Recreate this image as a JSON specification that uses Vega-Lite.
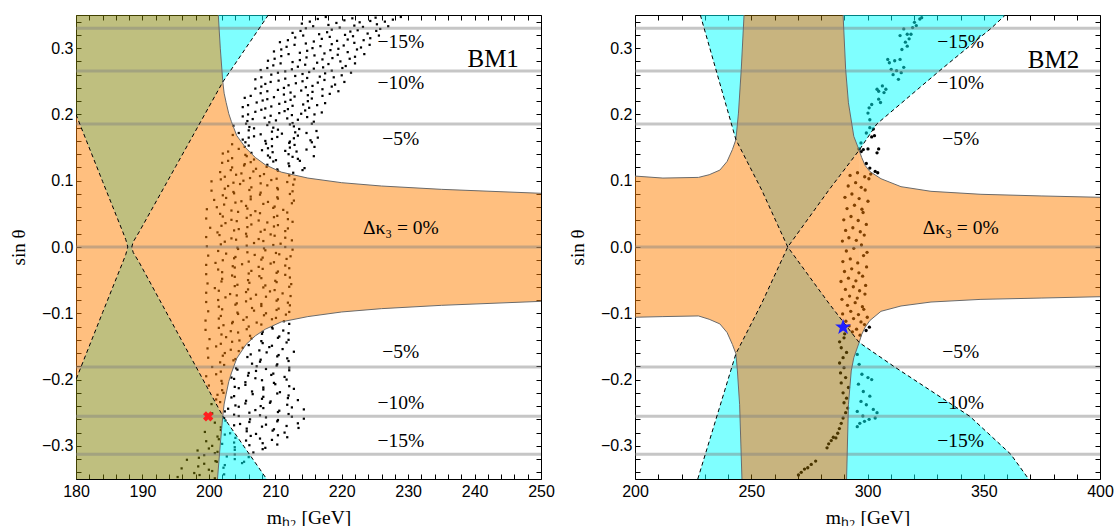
{
"$schema":"https://vega.github.io/schema/vega-lite/v6.json",
"background":"white",
"padding":{"left":8,"top":13,"right":10,"bottom":5},
"spacing":94,
"bounds":"flush",
"config":{
"view":{"stroke":"black","strokeWidth":1},
"axis":{"domain":false,"grid":false,"tickColor":"black","tickWidth":1,"tickSize":-5,"labelFont":"Liberation Sans","labelFontSize":16,"labelColor":"black","titleFont":"Liberation Serif","titleFontSize":19.5,"titleFontWeight":"normal","titleColor":"black","labelOverlap":false,"labelFlush":false},
"text":{"font":"Liberation Serif","fontSize":19.5,"color":"black"}
},
"datasets":{
"hl":[{"y":0.33},{"y":0.2656},{"y":0.1856},{"y":0},{"y":-0.1811},{"y":-0.2554},{"y":-0.3126}],
"a1":[
{"g":"o1","c":"#ff8000","x":180,"lo":-0.2,"hi":0.2},{"g":"o1","c":"#ff8000","x":184,"lo":-0.099,"hi":0.099},{"g":"o1","c":"#ff8000","x":187,"lo":-0.024,"hi":0.024},{"g":"o1","c":"#ff8000","x":187.5,"lo":-0.011,"hi":0.011},{"g":"o1","c":"#ff8000","x":187.8,"lo":0,"hi":0},
{"g":"o2","c":"#ff8000","x":188.4,"lo":0,"hi":0},{"g":"o2","c":"#ff8000","x":188.6,"lo":-0.008,"hi":0.0075},{"g":"o2","c":"#ff8000","x":189.5,"lo":-0.023,"hi":0.0226},{"g":"o2","c":"#ff8000","x":195,"lo":-0.1243,"hi":0.1213},{"g":"o2","c":"#ff8000","x":202.1,"lo":-0.255,"hi":0.249},{"g":"o2","c":"#ff8000","x":202.3,"lo":-0.237,"hi":0.232},{"g":"o2","c":"#ff8000","x":202.6,"lo":-0.222,"hi":0.218},{"g":"o2","c":"#ff8000","x":203,"lo":-0.203,"hi":0.201},{"g":"o2","c":"#ff8000","x":203.4,"lo":-0.19,"hi":0.189},{"g":"o2","c":"#ff8000","x":204.2,"lo":-0.168,"hi":0.168},{"g":"o2","c":"#ff8000","x":205.6,"lo":-0.147,"hi":0.149},{"g":"o2","c":"#ff8000","x":207,"lo":-0.134,"hi":0.135},{"g":"o2","c":"#ff8000","x":208.5,"lo":-0.124,"hi":0.124},{"g":"o2","c":"#ff8000","x":210.9,"lo":-0.113,"hi":0.113},{"g":"o2","c":"#ff8000","x":214.9,"lo":-0.105,"hi":0.104},{"g":"o2","c":"#ff8000","x":220,"lo":-0.098,"hi":0.097},{"g":"o2","c":"#ff8000","x":226,"lo":-0.093,"hi":0.092},{"g":"o2","c":"#ff8000","x":235,"lo":-0.088,"hi":0.087},{"g":"o2","c":"#ff8000","x":250,"lo":-0.082,"hi":0.081},
{"g":"v1","c":"#7f7f00","x":180,"lo":0.2,"hi":0.35},{"g":"v1","c":"#7f7f00","x":184,"lo":0.099,"hi":0.35},{"g":"v1","c":"#7f7f00","x":187,"lo":0.024,"hi":0.35},{"g":"v1","c":"#7f7f00","x":187.5,"lo":0.011,"hi":0.35},{"g":"v1","c":"#7f7f00","x":187.8,"lo":0,"hi":0.35},{"g":"v1","c":"#7f7f00","x":188.4,"lo":0,"hi":0.35},{"g":"v1","c":"#7f7f00","x":188.6,"lo":0.0075,"hi":0.35},{"g":"v1","c":"#7f7f00","x":189.5,"lo":0.0226,"hi":0.35},{"g":"v1","c":"#7f7f00","x":195,"lo":0.1213,"hi":0.35},{"g":"v1","c":"#7f7f00","x":201.42,"lo":0.2364,"hi":0.35},{"g":"v1","c":"#7f7f00","x":201.72,"lo":0.2418,"hi":0.3},{"g":"v1","c":"#7f7f00","x":202.1,"lo":0.249,"hi":0.249},
{"g":"v2","c":"#7f7f00","x":180,"lo":-0.35,"hi":-0.2},{"g":"v2","c":"#7f7f00","x":184,"lo":-0.35,"hi":-0.099},{"g":"v2","c":"#7f7f00","x":187,"lo":-0.35,"hi":-0.024},{"g":"v2","c":"#7f7f00","x":187.5,"lo":-0.35,"hi":-0.011},{"g":"v2","c":"#7f7f00","x":187.8,"lo":-0.35,"hi":0},{"g":"v2","c":"#7f7f00","x":188.4,"lo":-0.35,"hi":0},{"g":"v2","c":"#7f7f00","x":188.6,"lo":-0.35,"hi":-0.008},{"g":"v2","c":"#7f7f00","x":189.5,"lo":-0.35,"hi":-0.023},{"g":"v2","c":"#7f7f00","x":195,"lo":-0.35,"hi":-0.1243},{"g":"v2","c":"#7f7f00","x":201.3,"lo":-0.35,"hi":-0.2404},{"g":"v2","c":"#7f7f00","x":201.7,"lo":-0.3,"hi":-0.2478},{"g":"v2","c":"#7f7f00","x":202.1,"lo":-0.255,"hi":-0.255},
{"g":"c1","c":"#00ffff","x":201.42,"lo":0.35,"hi":0.35},{"g":"c1","c":"#00ffff","x":201.72,"lo":0.3,"hi":0.35},{"g":"c1","c":"#00ffff","x":202.1,"lo":0.249,"hi":0.35},{"g":"c1","c":"#00ffff","x":205.5,"lo":0.2995,"hi":0.35},{"g":"c1","c":"#00ffff","x":208.95,"lo":0.35,"hi":0.35},
{"g":"c2","c":"#00ffff","x":201.3,"lo":-0.35,"hi":-0.35},{"g":"c2","c":"#00ffff","x":201.7,"lo":-0.35,"hi":-0.3},{"g":"c2","c":"#00ffff","x":202.1,"lo":-0.35,"hi":-0.255},{"g":"c2","c":"#00ffff","x":205.4,"lo":-0.35,"hi":-0.303},{"g":"c2","c":"#00ffff","x":208.7,"lo":-0.35,"hi":-0.35}
],
"s1":[
{"g":"a","x":201.42,"y":0.35},{"g":"a","x":201.72,"y":0.3},{"g":"a","x":202.1,"y":0.249},{"g":"a","x":202.3,"y":0.232},{"g":"a","x":202.6,"y":0.218},{"g":"a","x":203,"y":0.201},{"g":"a","x":203.4,"y":0.189},{"g":"a","x":204.2,"y":0.168},{"g":"a","x":205.6,"y":0.149},{"g":"a","x":207,"y":0.135},{"g":"a","x":208.5,"y":0.124},{"g":"a","x":210.9,"y":0.113},{"g":"a","x":214.9,"y":0.104},{"g":"a","x":220,"y":0.097},{"g":"a","x":226,"y":0.092},{"g":"a","x":235,"y":0.087},{"g":"a","x":250,"y":0.081},
{"g":"b","x":201.3,"y":-0.35},{"g":"b","x":201.7,"y":-0.3},{"g":"b","x":202.1,"y":-0.255},{"g":"b","x":202.3,"y":-0.237},{"g":"b","x":202.6,"y":-0.222},{"g":"b","x":203,"y":-0.203},{"g":"b","x":203.4,"y":-0.19},{"g":"b","x":204.2,"y":-0.168},{"g":"b","x":205.6,"y":-0.147},{"g":"b","x":207,"y":-0.134},{"g":"b","x":208.5,"y":-0.124},{"g":"b","x":210.9,"y":-0.113},{"g":"b","x":214.9,"y":-0.105},{"g":"b","x":220,"y":-0.098},{"g":"b","x":226,"y":-0.093},{"g":"b","x":235,"y":-0.088},{"g":"b","x":250,"y":-0.082}
],
"d1":[
{"g":"a","o":1,"x":180,"y":0.2},{"g":"a","o":2,"x":184,"y":0.099},{"g":"a","o":3,"x":187,"y":0.024},{"g":"a","o":4,"x":187.5,"y":0.011},{"g":"a","o":5,"x":187.8,"y":0},{"g":"a","o":6,"x":187.5,"y":-0.011},{"g":"a","o":7,"x":187,"y":-0.024},{"g":"a","o":8,"x":184,"y":-0.099},{"g":"a","o":9,"x":180,"y":-0.2},
{"g":"b","o":1,"x":208.95,"y":0.35},{"g":"b","o":2,"x":202.1,"y":0.249},{"g":"b","o":3,"x":195,"y":0.1213},{"g":"b","o":4,"x":189.5,"y":0.0226},{"g":"b","o":5,"x":188.6,"y":0.0075},{"g":"b","o":6,"x":188.4,"y":0},{"g":"b","o":7,"x":188.6,"y":-0.008},{"g":"b","o":8,"x":189.5,"y":-0.023},{"g":"b","o":9,"x":195,"y":-0.1243},{"g":"b","o":10,"x":202.1,"y":-0.255},{"g":"b","o":11,"x":208.7,"y":-0.35}
],
"t1":[{"x":228.9,"y":0.309,"t":"−15%","s":19.5},{"x":228.9,"y":0.247,"t":"−10%","s":19.5},{"x":228.9,"y":0.163,"t":"−5%","s":19.5},{"x":228.9,"y":0.029,"t":"Δκ₃ = 0%","s":19.5},{"x":228.9,"y":-0.159,"t":"−5%","s":19.5},{"x":228.9,"y":-0.236,"t":"−10%","s":19.5},{"x":228.9,"y":-0.292,"t":"−15%","s":19.5},{"x":242.8,"y":0.283,"t":"BM1","s":25}],
"a2":[
{"g":"o1","c":"#ff8000","x":200,"lo":-0.106,"hi":0.107},{"g":"o1","c":"#ff8000","x":212,"lo":-0.105,"hi":0.104},{"g":"o1","c":"#ff8000","x":227.3,"lo":-0.104,"hi":0.105},{"g":"o1","c":"#ff8000","x":231.9,"lo":-0.109,"hi":0.109},{"g":"o1","c":"#ff8000","x":236.5,"lo":-0.116,"hi":0.116},{"g":"o1","c":"#ff8000","x":239.6,"lo":-0.129,"hi":0.129},{"g":"o1","c":"#ff8000","x":241.9,"lo":-0.147,"hi":0.147},{"g":"o1","c":"#ff8000","x":243.4,"lo":-0.161,"hi":0.162},
{"g":"o2","c":"#ff8000","x":243.4,"lo":-0.161,"hi":0.162},{"g":"o2","c":"#ff8000","x":254.5,"lo":-0.085,"hi":0.086},{"g":"o2","c":"#ff8000","x":265.7,"lo":0,"hi":0},{"g":"o2","c":"#ff8000","x":283.4,"lo":-0.085,"hi":0.086},{"g":"o2","c":"#ff8000","x":296.4,"lo":-0.144,"hi":0.146},
{"g":"o3","c":"#ff8000","x":296.4,"lo":-0.144,"hi":0.146},{"g":"o3","c":"#ff8000","x":297.5,"lo":-0.132,"hi":0.135},{"g":"o3","c":"#ff8000","x":299,"lo":-0.121,"hi":0.123},{"g":"o3","c":"#ff8000","x":301,"lo":-0.111,"hi":0.114},{"g":"o3","c":"#ff8000","x":305.8,"lo":-0.097,"hi":0.103},{"g":"o3","c":"#ff8000","x":314.4,"lo":-0.089,"hi":0.091},{"g":"o3","c":"#ff8000","x":327.3,"lo":-0.083,"hi":0.084},{"g":"o3","c":"#ff8000","x":348.8,"lo":-0.079,"hi":0.0795},{"g":"o3","c":"#ff8000","x":375,"lo":-0.077,"hi":0.077},{"g":"o3","c":"#ff8000","x":400,"lo":-0.075,"hi":0.075},
{"g":"v1","c":"#926a00","x":243.4,"lo":0.162,"hi":0.162},{"g":"v1","c":"#926a00","x":244.5,"lo":0.1545,"hi":0.202},{"g":"v1","c":"#926a00","x":245.7,"lo":0.1463,"hi":0.268},{"g":"v1","c":"#926a00","x":246.9,"lo":0.138,"hi":0.35},{"g":"v1","c":"#926a00","x":254.5,"lo":0.086,"hi":0.35},{"g":"v1","c":"#926a00","x":265.7,"lo":0,"hi":0.35},{"g":"v1","c":"#926a00","x":283.4,"lo":0.086,"hi":0.35},{"g":"v1","c":"#926a00","x":289.5,"lo":0.1142,"hi":0.35},{"g":"v1","c":"#926a00","x":290.6,"lo":0.1192,"hi":0.268},{"g":"v1","c":"#926a00","x":291.8,"lo":0.1248,"hi":0.2175},{"g":"v1","c":"#926a00","x":294.1,"lo":0.1354,"hi":0.167},{"g":"v1","c":"#926a00","x":296.4,"lo":0.146,"hi":0.146},
{"g":"v2","c":"#926a00","x":243.4,"lo":-0.161,"hi":-0.161},{"g":"v2","c":"#926a00","x":244.05,"lo":-0.187,"hi":-0.1566},{"g":"v2","c":"#926a00","x":245,"lo":-0.238,"hi":-0.15},{"g":"v2","c":"#926a00","x":246,"lo":-0.35,"hi":-0.1432},{"g":"v2","c":"#926a00","x":254.5,"lo":-0.35,"hi":-0.085},{"g":"v2","c":"#926a00","x":265.7,"lo":-0.35,"hi":0},{"g":"v2","c":"#926a00","x":283.4,"lo":-0.35,"hi":-0.085},{"g":"v2","c":"#926a00","x":291,"lo":-0.35,"hi":-0.1195},{"g":"v2","c":"#926a00","x":291.8,"lo":-0.238,"hi":-0.1231},{"g":"v2","c":"#926a00","x":293,"lo":-0.187,"hi":-0.1286},{"g":"v2","c":"#926a00","x":294.1,"lo":-0.167,"hi":-0.1336},{"g":"v2","c":"#926a00","x":296.4,"lo":-0.144,"hi":-0.144},
{"g":"c1","c":"#00ffff","x":228.1,"lo":0.35,"hi":0.35},{"g":"c1","c":"#00ffff","x":243.4,"lo":0.162,"hi":0.35},{"g":"c1","c":"#00ffff","x":244.5,"lo":0.202,"hi":0.35},{"g":"c1","c":"#00ffff","x":245.7,"lo":0.268,"hi":0.35},{"g":"c1","c":"#00ffff","x":246.9,"lo":0.35,"hi":0.35},
{"g":"c2","c":"#00ffff","x":289.5,"lo":0.35,"hi":0.35},{"g":"c2","c":"#00ffff","x":290.6,"lo":0.268,"hi":0.35},{"g":"c2","c":"#00ffff","x":291.8,"lo":0.2175,"hi":0.35},{"g":"c2","c":"#00ffff","x":294.1,"lo":0.167,"hi":0.35},{"g":"c2","c":"#00ffff","x":296.4,"lo":0.146,"hi":0.35},{"g":"c2","c":"#00ffff","x":304,"lo":0.1856,"hi":0.35},{"g":"c2","c":"#00ffff","x":330.9,"lo":0.2656,"hi":0.35},{"g":"c2","c":"#00ffff","x":353.2,"lo":0.33,"hi":0.35},{"g":"c2","c":"#00ffff","x":359.3,"lo":0.35,"hi":0.35},
{"g":"c3","c":"#00ffff","x":227,"lo":-0.35,"hi":-0.35},{"g":"c3","c":"#00ffff","x":243.4,"lo":-0.35,"hi":-0.161},{"g":"c3","c":"#00ffff","x":244.05,"lo":-0.35,"hi":-0.187},{"g":"c3","c":"#00ffff","x":245,"lo":-0.35,"hi":-0.238},{"g":"c3","c":"#00ffff","x":246,"lo":-0.35,"hi":-0.35},
{"g":"c4","c":"#00ffff","x":291,"lo":-0.35,"hi":-0.35},{"g":"c4","c":"#00ffff","x":291.8,"lo":-0.35,"hi":-0.238},{"g":"c4","c":"#00ffff","x":293,"lo":-0.35,"hi":-0.187},{"g":"c4","c":"#00ffff","x":294.1,"lo":-0.35,"hi":-0.167},{"g":"c4","c":"#00ffff","x":296.4,"lo":-0.35,"hi":-0.144},{"g":"c4","c":"#00ffff","x":311.7,"lo":-0.35,"hi":-0.181},{"g":"c4","c":"#00ffff","x":344,"lo":-0.35,"hi":-0.2554},{"g":"c4","c":"#00ffff","x":361.6,"lo":-0.35,"hi":-0.3126},{"g":"c4","c":"#00ffff","x":369.3,"lo":-0.35,"hi":-0.35}
],
"s2":[
{"g":"a","x":200,"y":0.107},{"g":"a","x":212,"y":0.104},{"g":"a","x":227.3,"y":0.105},{"g":"a","x":231.9,"y":0.109},{"g":"a","x":236.5,"y":0.116},{"g":"a","x":239.6,"y":0.129},{"g":"a","x":241.9,"y":0.147},{"g":"a","x":243.4,"y":0.162},{"g":"a","x":244.5,"y":0.202},{"g":"a","x":245.7,"y":0.268},{"g":"a","x":246.9,"y":0.35},
{"g":"b","x":200,"y":-0.106},{"g":"b","x":212,"y":-0.105},{"g":"b","x":227.3,"y":-0.104},{"g":"b","x":231.9,"y":-0.109},{"g":"b","x":236.5,"y":-0.116},{"g":"b","x":239.6,"y":-0.129},{"g":"b","x":241.9,"y":-0.147},{"g":"b","x":243.4,"y":-0.161},{"g":"b","x":244.05,"y":-0.187},{"g":"b","x":245,"y":-0.238},{"g":"b","x":246,"y":-0.35},
{"g":"c","x":289.5,"y":0.35},{"g":"c","x":290.6,"y":0.268},{"g":"c","x":291.8,"y":0.2175},{"g":"c","x":294.1,"y":0.167},{"g":"c","x":296.4,"y":0.146},{"g":"c","x":297.5,"y":0.135},{"g":"c","x":299,"y":0.123},{"g":"c","x":301,"y":0.114},{"g":"c","x":305.8,"y":0.103},{"g":"c","x":314.4,"y":0.091},{"g":"c","x":327.3,"y":0.084},{"g":"c","x":348.8,"y":0.0795},{"g":"c","x":375,"y":0.077},{"g":"c","x":400,"y":0.075},
{"g":"d","x":291,"y":-0.35},{"g":"d","x":291.8,"y":-0.238},{"g":"d","x":293,"y":-0.187},{"g":"d","x":294.1,"y":-0.167},{"g":"d","x":296.4,"y":-0.144},{"g":"d","x":297.5,"y":-0.132},{"g":"d","x":299,"y":-0.121},{"g":"d","x":301,"y":-0.111},{"g":"d","x":305.8,"y":-0.097},{"g":"d","x":314.4,"y":-0.089},{"g":"d","x":327.3,"y":-0.083},{"g":"d","x":348.8,"y":-0.079},{"g":"d","x":375,"y":-0.077},{"g":"d","x":400,"y":-0.075}
],
"d2":[
{"g":"a","o":1,"x":228.1,"y":0.35},{"g":"a","o":2,"x":243.4,"y":0.162},{"g":"a","o":3,"x":254.5,"y":0.086},{"g":"a","o":4,"x":265.7,"y":0},{"g":"a","o":5,"x":283.4,"y":-0.085},{"g":"a","o":6,"x":296.4,"y":-0.144},{"g":"a","o":7,"x":311.7,"y":-0.181},{"g":"a","o":8,"x":344,"y":-0.2554},{"g":"a","o":9,"x":361.6,"y":-0.3126},{"g":"a","o":10,"x":369.3,"y":-0.35},
{"g":"b","o":1,"x":227,"y":-0.35},{"g":"b","o":2,"x":243.4,"y":-0.161},{"g":"b","o":3,"x":254.5,"y":-0.085},{"g":"b","o":4,"x":265.7,"y":0},{"g":"b","o":5,"x":283.4,"y":0.086},{"g":"b","o":6,"x":296.4,"y":0.146},{"g":"b","o":7,"x":304,"y":0.1856},{"g":"b","o":8,"x":330.9,"y":0.2656},{"g":"b","o":9,"x":353.2,"y":0.33},{"g":"b","o":10,"x":359.3,"y":0.35}
],
"t2":[{"x":340.1,"y":0.309,"t":"−15%","s":19.5},{"x":340.1,"y":0.248,"t":"−10%","s":19.5},{"x":340.1,"y":0.163,"t":"−5%","s":19.5},{"x":340.1,"y":0.029,"t":"Δκ₃ = 0%","s":19.5},{"x":340.1,"y":-0.159,"t":"−5%","s":19.5},{"x":340.1,"y":-0.235,"t":"−10%","s":19.5},{"x":340.1,"y":-0.293,"t":"−15%","s":19.5},{"x":380,"y":0.282,"t":"BM2","s":25}],
"p1":[
{"x":195.3,"y":-0.347},{"x":198.6,"y":-0.344},{"x":200.9,"y":-0.349},
{"x":197.8,"y":-0.341},{"x":200.5,"y":-0.338},{"x":202.3,"y":-0.343},
{"x":195.9,"y":-0.334},{"x":198.4,"y":-0.331},{"x":200.0,"y":-0.336},{"x":202.2,"y":-0.333},
{"x":199.3,"y":-0.327},{"x":201.2,"y":-0.324},{"x":202.4,"y":-0.329},{"x":205.0,"y":-0.326},
{"x":196.7,"y":-0.321},{"x":198.5,"y":-0.318},{"x":201.0,"y":-0.323},{"x":203.9,"y":-0.32},{"x":205.3,"y":-0.324},
{"x":199.3,"y":-0.314},{"x":200.9,"y":-0.311},{"x":202.7,"y":-0.316},{"x":203.9,"y":-0.313},{"x":206.0,"y":-0.317},
{"x":198.3,"y":-0.307},{"x":200.0,"y":-0.304},{"x":201.3,"y":-0.309},{"x":203.9,"y":-0.306},{"x":206.7,"y":-0.31},{"x":208.1,"y":-0.305},
{"x":200.5,"y":-0.3},{"x":202.0,"y":-0.297},{"x":203.9,"y":-0.302},{"x":206.1,"y":-0.299},{"x":208.5,"y":-0.303},{"x":210.3,"y":-0.298},
{"x":199.6,"y":-0.293},{"x":201.5,"y":-0.29},{"x":203.8,"y":-0.295},{"x":205.6,"y":-0.292},{"x":208.1,"y":-0.296},{"x":209.5,"y":-0.291},
{"x":201.3,"y":-0.286},{"x":202.4,"y":-0.283},{"x":204.0,"y":-0.288},{"x":206.3,"y":-0.285},{"x":207.7,"y":-0.289},{"x":210.4,"y":-0.284},{"x":211.8,"y":-0.287},
{"x":199.4,"y":-0.279},{"x":201.8,"y":-0.276},{"x":203.2,"y":-0.281},{"x":205.7,"y":-0.278},{"x":207.1,"y":-0.282},{"x":209.6,"y":-0.277},{"x":211.4,"y":-0.28},
{"x":201.8,"y":-0.272},{"x":203.8,"y":-0.269},{"x":205.7,"y":-0.274},{"x":208.0,"y":-0.271},{"x":209.8,"y":-0.275},{"x":211.7,"y":-0.27},{"x":213.5,"y":-0.273},
{"x":200.9,"y":-0.265},{"x":202.5,"y":-0.262},{"x":204.7,"y":-0.267},{"x":206.1,"y":-0.264},{"x":208.6,"y":-0.268},{"x":210.3,"y":-0.263},{"x":213.4,"y":-0.266},
{"x":202.3,"y":-0.258},{"x":204.5,"y":-0.255},{"x":206.2,"y":-0.26},{"x":208.6,"y":-0.257},{"x":210.4,"y":-0.261},{"x":212.5,"y":-0.256},{"x":214.3,"y":-0.259},
{"x":200.5,"y":-0.251},{"x":202.4,"y":-0.248},{"x":203.8,"y":-0.253},{"x":206.1,"y":-0.25},{"x":207.7,"y":-0.254},{"x":210.4,"y":-0.249},{"x":212.0,"y":-0.252},
{"x":202.9,"y":-0.244},{"x":204.5,"y":-0.241},{"x":207.0,"y":-0.246},{"x":208.2,"y":-0.243},{"x":210.6,"y":-0.247},{"x":212.5,"y":-0.242},{"x":214.3,"y":-0.245},
{"x":200.4,"y":-0.237},{"x":201.7,"y":-0.234},{"x":204.0,"y":-0.239},{"x":205.5,"y":-0.236},{"x":207.8,"y":-0.24},{"x":209.2,"y":-0.235},{"x":211.8,"y":-0.238},
{"x":201.1,"y":-0.23},{"x":203.4,"y":-0.227},{"x":205.6,"y":-0.232},{"x":208.0,"y":-0.229},{"x":209.3,"y":-0.233},{"x":211.9,"y":-0.228},{"x":213.4,"y":-0.231},
{"x":201.3,"y":-0.223},{"x":202.2,"y":-0.22},{"x":203.8,"y":-0.225},{"x":206.6,"y":-0.222},{"x":208.2,"y":-0.226},{"x":210.3,"y":-0.221},{"x":212.0,"y":-0.224},
{"x":202.0,"y":-0.216},{"x":204.5,"y":-0.213},{"x":206.5,"y":-0.218},{"x":208.2,"y":-0.215},{"x":210.7,"y":-0.219},{"x":212.8,"y":-0.214},
{"x":200.0,"y":-0.209},{"x":202.0,"y":-0.206},{"x":203.9,"y":-0.211},{"x":205.5,"y":-0.208},{"x":208.2,"y":-0.212},{"x":210.0,"y":-0.207},{"x":212.1,"y":-0.21},
{"x":201.9,"y":-0.202},{"x":203.8,"y":-0.199},{"x":205.5,"y":-0.204},{"x":208.0,"y":-0.201},{"x":209.8,"y":-0.205},{"x":211.7,"y":-0.2},
{"x":199.6,"y":-0.195},{"x":201.1,"y":-0.192},{"x":203.4,"y":-0.197},{"x":205.9,"y":-0.194},{"x":207.0,"y":-0.198},{"x":209.4,"y":-0.193},{"x":211.4,"y":-0.196},
{"x":201.8,"y":-0.188},{"x":204.3,"y":-0.185},{"x":206.0,"y":-0.19},{"x":207.1,"y":-0.187},{"x":209.7,"y":-0.191},{"x":212.1,"y":-0.186},
{"x":200.5,"y":-0.181},{"x":202.3,"y":-0.178},{"x":204.1,"y":-0.183},{"x":207.2,"y":-0.18},{"x":208.6,"y":-0.184},{"x":210.2,"y":-0.179},{"x":212.1,"y":-0.182},
{"x":201.7,"y":-0.174},{"x":203.7,"y":-0.171},{"x":206.5,"y":-0.176},{"x":207.7,"y":-0.173},{"x":210.3,"y":-0.177},{"x":212.0,"y":-0.172},
{"x":199.9,"y":-0.167},{"x":202.1,"y":-0.164},{"x":204.0,"y":-0.169},{"x":205.8,"y":-0.166},{"x":207.8,"y":-0.17},{"x":210.3,"y":-0.165},{"x":211.8,"y":-0.168},
{"x":202.4,"y":-0.16},{"x":204.5,"y":-0.157},{"x":206.3,"y":-0.162},{"x":208.7,"y":-0.159},{"x":210.5,"y":-0.163},{"x":212.8,"y":-0.158},
{"x":199.8,"y":-0.153},{"x":201.1,"y":-0.15},{"x":203.3,"y":-0.155},{"x":205.1,"y":-0.152},{"x":207.6,"y":-0.156},{"x":209.1,"y":-0.151},{"x":211.1,"y":-0.154},
{"x":201.8,"y":-0.146},{"x":203.5,"y":-0.143},{"x":206.0,"y":-0.148},{"x":208.1,"y":-0.145},{"x":209.5,"y":-0.149},{"x":211.7,"y":-0.144},
{"x":200.1,"y":-0.139},{"x":202.6,"y":-0.136},{"x":204.6,"y":-0.141},{"x":206.4,"y":-0.138},{"x":207.9,"y":-0.142},{"x":210.4,"y":-0.137},{"x":212.0,"y":-0.14},
{"x":201.9,"y":-0.132},{"x":204.4,"y":-0.129},{"x":206.2,"y":-0.134},{"x":208.0,"y":-0.131},{"x":210.6,"y":-0.135},{"x":212.0,"y":-0.13},
{"x":199.5,"y":-0.125},{"x":201.5,"y":-0.122},{"x":203.3,"y":-0.127},{"x":205.7,"y":-0.124},{"x":208.1,"y":-0.128},{"x":209.6,"y":-0.123},{"x":211.2,"y":-0.126},
{"x":202.2,"y":-0.118},{"x":203.5,"y":-0.115},{"x":206.0,"y":-0.12},{"x":207.9,"y":-0.117},{"x":209.5,"y":-0.121},{"x":212.1,"y":-0.116},
{"x":199.5,"y":-0.111},{"x":201.5,"y":-0.108},{"x":203.6,"y":-0.113},{"x":205.2,"y":-0.11},{"x":207.2,"y":-0.114},{"x":209.5,"y":-0.109},{"x":211.3,"y":-0.112},
{"x":201.8,"y":-0.104},{"x":204.4,"y":-0.101},{"x":205.7,"y":-0.106},{"x":208.3,"y":-0.103},{"x":210.1,"y":-0.107},{"x":211.6,"y":-0.102},
{"x":199.9,"y":-0.097},{"x":202.0,"y":-0.094},{"x":204.3,"y":-0.099},{"x":206.8,"y":-0.096},{"x":208.6,"y":-0.1},{"x":210.2,"y":-0.095},{"x":212.1,"y":-0.098},
{"x":201.5,"y":-0.09},{"x":204.0,"y":-0.087},{"x":206.5,"y":-0.092},{"x":207.9,"y":-0.089},{"x":210.5,"y":-0.093},{"x":212.2,"y":-0.088},
{"x":199.6,"y":-0.083},{"x":201.4,"y":-0.08},{"x":204.2,"y":-0.085},{"x":205.6,"y":-0.082},{"x":207.9,"y":-0.086},{"x":210.2,"y":-0.081},{"x":211.9,"y":-0.084},
{"x":202.5,"y":-0.076},{"x":204.2,"y":-0.073},{"x":206.3,"y":-0.078},{"x":208.6,"y":-0.075},{"x":210.4,"y":-0.079},{"x":212.3,"y":-0.074},
{"x":199.6,"y":-0.069},{"x":201.5,"y":-0.066},{"x":203.2,"y":-0.071},{"x":205.6,"y":-0.068},{"x":207.1,"y":-0.072},{"x":209.2,"y":-0.067},{"x":211.1,"y":-0.07},
{"x":200.9,"y":-0.062},{"x":203.9,"y":-0.059},{"x":205.9,"y":-0.064},{"x":208.2,"y":-0.061},{"x":209.9,"y":-0.065},{"x":212.1,"y":-0.06},
{"x":199.8,"y":-0.055},{"x":201.9,"y":-0.052},{"x":204.3,"y":-0.057},{"x":206.1,"y":-0.054},{"x":208.5,"y":-0.058},{"x":210.2,"y":-0.053},{"x":212.4,"y":-0.056},
{"x":202.0,"y":-0.048},{"x":203.9,"y":-0.045},{"x":205.9,"y":-0.05},{"x":207.9,"y":-0.047},{"x":210.0,"y":-0.051},{"x":212.2,"y":-0.046},
{"x":199.6,"y":-0.041},{"x":202.0,"y":-0.038},{"x":203.5,"y":-0.043},{"x":206.0,"y":-0.04},{"x":207.6,"y":-0.044},{"x":210.2,"y":-0.039},{"x":211.5,"y":-0.042},
{"x":201.4,"y":-0.034},{"x":203.9,"y":-0.031},{"x":206.4,"y":-0.036},{"x":208.1,"y":-0.033},{"x":210.4,"y":-0.037},{"x":212.1,"y":-0.032},
{"x":199.6,"y":-0.027},{"x":201.0,"y":-0.024},{"x":203.6,"y":-0.029},{"x":205.0,"y":-0.026},{"x":207.5,"y":-0.03},{"x":209.3,"y":-0.025},{"x":211.5,"y":-0.028},
{"x":202.1,"y":-0.02},{"x":203.8,"y":-0.017},{"x":206.0,"y":-0.022},{"x":207.9,"y":-0.019},{"x":209.8,"y":-0.023},{"x":211.7,"y":-0.018},
{"x":199.9,"y":-0.013},{"x":202.6,"y":-0.01},{"x":204.0,"y":-0.015},{"x":206.9,"y":-0.012},{"x":208.1,"y":-0.016},{"x":210.6,"y":-0.011},{"x":212.3,"y":-0.014},
{"x":201.4,"y":-0.006},{"x":204.4,"y":-0.003},{"x":205.8,"y":-0.008},{"x":208.5,"y":-0.005},{"x":210.1,"y":-0.009},{"x":212.6,"y":-0.004},
{"x":199.7,"y":0.001},{"x":201.8,"y":0.004},{"x":204.3,"y":-0.001},{"x":205.7,"y":0.002},{"x":208.3,"y":-0.002},{"x":209.7,"y":0.003},{"x":211.5,"y":0.0},
{"x":202.4,"y":0.008},{"x":204.1,"y":0.011},{"x":206.8,"y":0.006},{"x":208.2,"y":0.009},{"x":210.8,"y":0.005},{"x":212.5,"y":0.01},
{"x":199.6,"y":0.015},{"x":201.6,"y":0.018},{"x":203.4,"y":0.013},{"x":205.7,"y":0.016},{"x":207.5,"y":0.012},{"x":209.9,"y":0.017},{"x":211.5,"y":0.014},
{"x":201.3,"y":0.022},{"x":203.8,"y":0.025},{"x":205.6,"y":0.02},{"x":207.8,"y":0.023},{"x":209.3,"y":0.019},{"x":211.5,"y":0.024},
{"x":200.2,"y":0.029},{"x":201.9,"y":0.032},{"x":204.5,"y":0.027},{"x":205.8,"y":0.03},{"x":208.4,"y":0.026},{"x":209.8,"y":0.031},{"x":211.9,"y":0.028},
{"x":202.5,"y":0.036},{"x":204.2,"y":0.039},{"x":206.4,"y":0.034},{"x":208.8,"y":0.037},{"x":210.4,"y":0.033},{"x":212.6,"y":0.038},
{"x":199.6,"y":0.043},{"x":202.1,"y":0.046},{"x":203.4,"y":0.041},{"x":205.7,"y":0.044},{"x":207.5,"y":0.04},{"x":209.8,"y":0.045},{"x":211.9,"y":0.042},
{"x":201.7,"y":0.05},{"x":204.4,"y":0.053},{"x":206.3,"y":0.048},{"x":207.7,"y":0.051},{"x":210.3,"y":0.047},{"x":211.8,"y":0.052},
{"x":199.7,"y":0.057},{"x":201.2,"y":0.06},{"x":203.4,"y":0.055},{"x":205.8,"y":0.058},{"x":207.0,"y":0.054},{"x":209.7,"y":0.059},{"x":211.2,"y":0.056},
{"x":202.3,"y":0.064},{"x":204.0,"y":0.067},{"x":205.6,"y":0.062},{"x":208.2,"y":0.065},{"x":209.9,"y":0.061},{"x":212.5,"y":0.066},
{"x":200.8,"y":0.071},{"x":202.6,"y":0.074},{"x":204.9,"y":0.069},{"x":206.3,"y":0.072},{"x":208.9,"y":0.068},{"x":210.4,"y":0.073},{"x":212.8,"y":0.07},
{"x":202.1,"y":0.078},{"x":203.8,"y":0.081},{"x":206.3,"y":0.076},{"x":207.7,"y":0.079},{"x":210.3,"y":0.075},{"x":212.2,"y":0.08},
{"x":200.4,"y":0.085},{"x":202.4,"y":0.088},{"x":203.7,"y":0.083},{"x":206.1,"y":0.086},{"x":207.8,"y":0.082},{"x":210.4,"y":0.087},{"x":212.6,"y":0.084},
{"x":202.9,"y":0.092},{"x":204.7,"y":0.095},{"x":206.4,"y":0.09},{"x":208.8,"y":0.093},{"x":210.3,"y":0.089},{"x":212.7,"y":0.094},
{"x":200.4,"y":0.099},{"x":201.8,"y":0.102},{"x":203.7,"y":0.097},{"x":205.2,"y":0.1},{"x":207.8,"y":0.096},{"x":209.4,"y":0.101},{"x":211.8,"y":0.098},{"x":212.9,"y":0.102},
{"x":202.4,"y":0.106},{"x":204.1,"y":0.109},{"x":206.2,"y":0.104},{"x":207.7,"y":0.107},{"x":210.2,"y":0.103},{"x":212.1,"y":0.108},
{"x":201.7,"y":0.113},{"x":203.3,"y":0.116},{"x":204.9,"y":0.111},{"x":206.7,"y":0.114},{"x":208.3,"y":0.11},{"x":210.4,"y":0.115},{"x":212.7,"y":0.112},{"x":214.1,"y":0.116},
{"x":203.5,"y":0.12},{"x":205.3,"y":0.123},{"x":207.1,"y":0.118},{"x":208.7,"y":0.121},{"x":210.3,"y":0.117},{"x":212.1,"y":0.122},{"x":214.4,"y":0.119},
{"x":202.0,"y":0.127},{"x":202.9,"y":0.13},{"x":205.4,"y":0.125},{"x":206.3,"y":0.128},{"x":208.8,"y":0.124},{"x":209.7,"y":0.129},{"x":212.0,"y":0.126},{"x":213.7,"y":0.13},
{"x":203.5,"y":0.134},{"x":205.7,"y":0.137},{"x":206.8,"y":0.132},{"x":209.2,"y":0.135},{"x":210.1,"y":0.131},{"x":212.6,"y":0.136},{"x":213.4,"y":0.133},{"x":215.8,"y":0.137},
{"x":202.1,"y":0.141},{"x":202.9,"y":0.144},{"x":205.5,"y":0.139},{"x":206.4,"y":0.142},{"x":208.9,"y":0.138},{"x":209.6,"y":0.143},{"x":212.0,"y":0.14},{"x":213.2,"y":0.144},
{"x":204.5,"y":0.148},{"x":205.4,"y":0.151},{"x":208.0,"y":0.146},{"x":208.9,"y":0.149},{"x":211.5,"y":0.145},{"x":212.2,"y":0.15},{"x":214.7,"y":0.147},{"x":215.9,"y":0.151},
{"x":203.5,"y":0.155},{"x":205.5,"y":0.158},{"x":206.0,"y":0.153},{"x":208.6,"y":0.156},{"x":209.5,"y":0.152},{"x":212.1,"y":0.157},{"x":212.9,"y":0.154},{"x":215.5,"y":0.158},
{"x":205.1,"y":0.162},{"x":206.0,"y":0.165},{"x":208.5,"y":0.16},{"x":209.5,"y":0.163},{"x":212.2,"y":0.159},{"x":212.8,"y":0.164},{"x":215.3,"y":0.161},{"x":216.4,"y":0.165},
{"x":203.6,"y":0.169},{"x":204.5,"y":0.172},{"x":206.8,"y":0.167},{"x":207.8,"y":0.17},{"x":210.3,"y":0.166},{"x":211.0,"y":0.171},{"x":213.4,"y":0.168},{"x":214.7,"y":0.172},
{"x":206.0,"y":0.176},{"x":206.8,"y":0.179},{"x":209.5,"y":0.174},{"x":210.4,"y":0.177},{"x":213.0,"y":0.173},{"x":213.6,"y":0.178},{"x":216.2,"y":0.175},
{"x":203.7,"y":0.183},{"x":205.6,"y":0.186},{"x":206.1,"y":0.181},{"x":208.8,"y":0.184},{"x":209.7,"y":0.18},{"x":212.2,"y":0.185},{"x":212.8,"y":0.182},{"x":215.5,"y":0.186},
{"x":205.8,"y":0.19},{"x":206.6,"y":0.193},{"x":209.1,"y":0.188},{"x":210.1,"y":0.191},{"x":212.6,"y":0.187},{"x":213.4,"y":0.192},{"x":215.8,"y":0.189},
{"x":205.1,"y":0.197},{"x":205.9,"y":0.2},{"x":208.4,"y":0.195},{"x":209.3,"y":0.198},{"x":211.8,"y":0.194},{"x":212.5,"y":0.199},{"x":214.8,"y":0.196},{"x":215.9,"y":0.2},
{"x":207.0,"y":0.204},{"x":207.9,"y":0.207},{"x":210.6,"y":0.202},{"x":211.4,"y":0.205},{"x":213.9,"y":0.201},{"x":214.5,"y":0.206},{"x":217.0,"y":0.203},
{"x":205.1,"y":0.211},{"x":205.9,"y":0.214},{"x":208.5,"y":0.209},{"x":209.4,"y":0.212},{"x":211.9,"y":0.208},{"x":212.6,"y":0.213},{"x":215.1,"y":0.21},{"x":216.3,"y":0.214},
{"x":207.2,"y":0.218},{"x":208.1,"y":0.221},{"x":210.6,"y":0.216},{"x":211.5,"y":0.219},{"x":214.2,"y":0.215},{"x":214.9,"y":0.22},{"x":217.5,"y":0.217},
{"x":205.4,"y":0.225},{"x":206.3,"y":0.228},{"x":208.8,"y":0.223},{"x":209.8,"y":0.226},{"x":212.3,"y":0.222},{"x":212.9,"y":0.227},{"x":215.5,"y":0.224},{"x":217.1,"y":0.228},
{"x":207.8,"y":0.232},{"x":208.8,"y":0.235},{"x":211.3,"y":0.23},{"x":212.3,"y":0.233},{"x":214.9,"y":0.229},{"x":215.6,"y":0.234},{"x":218.2,"y":0.231},{"x":219.5,"y":0.235},
{"x":207.0,"y":0.239},{"x":207.9,"y":0.242},{"x":210.4,"y":0.237},{"x":211.3,"y":0.24},{"x":213.9,"y":0.236},{"x":214.6,"y":0.241},{"x":217.1,"y":0.238},{"x":218.5,"y":0.242},
{"x":208.5,"y":0.246},{"x":209.3,"y":0.249},{"x":212.0,"y":0.244},{"x":213.1,"y":0.247},{"x":215.6,"y":0.243},{"x":216.4,"y":0.248},{"x":219.0,"y":0.245},{"x":220.4,"y":0.249},
{"x":207.0,"y":0.253},{"x":207.9,"y":0.256},{"x":210.5,"y":0.251},{"x":211.5,"y":0.254},{"x":214.1,"y":0.25},{"x":214.8,"y":0.255},{"x":217.4,"y":0.252},{"x":218.8,"y":0.256},
{"x":209.4,"y":0.26},{"x":210.4,"y":0.263},{"x":213.0,"y":0.258},{"x":214.1,"y":0.261},{"x":216.7,"y":0.257},{"x":217.5,"y":0.262},{"x":220.0,"y":0.259},{"x":221.4,"y":0.263},
{"x":207.8,"y":0.267},{"x":208.8,"y":0.27},{"x":211.5,"y":0.265},{"x":212.5,"y":0.268},{"x":215.1,"y":0.264},{"x":215.8,"y":0.269},{"x":218.5,"y":0.266},{"x":220.1,"y":0.27},
{"x":209.7,"y":0.274},{"x":210.8,"y":0.277},{"x":213.4,"y":0.272},{"x":214.5,"y":0.275},{"x":217.2,"y":0.271},{"x":218.0,"y":0.276},{"x":220.6,"y":0.273},{"x":222.0,"y":0.277},
{"x":208.9,"y":0.281},{"x":209.9,"y":0.284},{"x":212.6,"y":0.279},{"x":213.7,"y":0.282},{"x":216.3,"y":0.278},{"x":217.1,"y":0.283},{"x":219.8,"y":0.28},{"x":221.2,"y":0.284},
{"x":210.9,"y":0.288},{"x":212.0,"y":0.291},{"x":214.7,"y":0.286},{"x":215.9,"y":0.289},{"x":218.6,"y":0.285},{"x":219.4,"y":0.29},{"x":222.0,"y":0.287},{"x":223.4,"y":0.291},
{"x":209.8,"y":0.295},{"x":210.9,"y":0.298},{"x":213.7,"y":0.293},{"x":214.8,"y":0.296},{"x":217.4,"y":0.292},{"x":218.3,"y":0.297},{"x":220.9,"y":0.294},{"x":222.3,"y":0.298},
{"x":211.7,"y":0.302},{"x":212.9,"y":0.305},{"x":215.6,"y":0.3},{"x":216.8,"y":0.303},{"x":219.5,"y":0.299},{"x":220.3,"y":0.304},{"x":222.9,"y":0.301},{"x":224.2,"y":0.305},
{"x":210.7,"y":0.309},{"x":211.9,"y":0.312},{"x":214.6,"y":0.307},{"x":215.8,"y":0.31},{"x":218.5,"y":0.306},{"x":219.3,"y":0.311},{"x":221.9,"y":0.308},{"x":223.3,"y":0.312},
{"x":213.0,"y":0.316},{"x":214.2,"y":0.319},{"x":217.0,"y":0.314},{"x":218.2,"y":0.317},{"x":220.9,"y":0.313},{"x":221.7,"y":0.318},{"x":224.3,"y":0.315},{"x":225.6,"y":0.319},
{"x":212.6,"y":0.323},{"x":213.8,"y":0.326},{"x":216.6,"y":0.321},{"x":217.8,"y":0.324},{"x":220.5,"y":0.32},{"x":221.3,"y":0.325},{"x":223.9,"y":0.322},{"x":225.2,"y":0.326},
{"x":214.6,"y":0.33},{"x":215.7,"y":0.333},{"x":218.5,"y":0.328},{"x":219.7,"y":0.331},{"x":222.4,"y":0.327},{"x":223.2,"y":0.332},{"x":225.8,"y":0.329},{"x":227.0,"y":0.333},
{"x":214.0,"y":0.337},{"x":215.2,"y":0.34},{"x":218.0,"y":0.335},{"x":219.2,"y":0.338},{"x":221.9,"y":0.334},{"x":222.7,"y":0.339},{"x":225.3,"y":0.336},{"x":226.5,"y":0.34},
{"x":216.4,"y":0.344},{"x":217.6,"y":0.347},{"x":220.4,"y":0.342},{"x":221.6,"y":0.345},{"x":224.3,"y":0.341},{"x":225.1,"y":0.346},{"x":227.7,"y":0.343},{"x":228.9,"y":0.347}
],
"p2":[
{"x":270.3,"y":-0.344},{"x":271.5,"y":-0.34},{"x":272.9,"y":-0.335},{"x":274.3,"y":-0.333},{"x":275.8,"y":-0.328},{"x":277.7,"y":-0.323},{"x":282.6,"y":-0.303},{"x":283.3,"y":-0.297},{"x":284.4,"y":-0.292},{"x":285.3,"y":-0.287},{"x":286.4,"y":-0.288},{"x":287.2,"y":-0.281},{"x":287.9,"y":-0.274},{"x":288.7,"y":-0.266},{"x":289.5,"y":-0.258},{"x":290.6,"y":-0.25},{"x":291.5,"y":-0.243},{"x":289.9,"y":-0.235},{"x":291.0,"y":-0.228},{"x":289.5,"y":-0.22},{"x":291.8,"y":-0.212},{"x":288.7,"y":-0.205},{"x":290.6,"y":-0.197},{"x":288.4,"y":-0.19},{"x":289.9,"y":-0.182},{"x":288.0,"y":-0.175},{"x":289.5,"y":-0.167},{"x":291.0,"y":-0.159},{"x":288.7,"y":-0.152},{"x":288.0,"y":-0.143},{"x":289.9,"y":-0.137},
{"x":295.6,"y":-0.162},{"x":296.4,"y":-0.177},{"x":297.6,"y":-0.192},{"x":300.2,"y":-0.197},{"x":301.8,"y":-0.2},{"x":296.1,"y":-0.207},{"x":298.2,"y":-0.218},{"x":301.0,"y":-0.225},{"x":297.2,"y":-0.233},{"x":299.5,"y":-0.238},{"x":302.5,"y":-0.245},{"x":304.1,"y":-0.25},{"x":295.6,"y":-0.248},{"x":298.0,"y":-0.255},{"x":300.7,"y":-0.26},{"x":296.7,"y":-0.266},{"x":295.6,"y":-0.271},{"x":298.7,"y":-0.263},{"x":303.3,"y":-0.258},
{"x":290.2,"y":-0.131},{"x":293.5,"y":-0.128},{"x":296.8,"y":-0.133},{"x":299.4,"y":-0.126},{"x":288.9,"y":-0.122},{"x":292.1,"y":-0.119},{"x":295.3,"y":-0.124},{"x":298.7,"y":-0.117},{"x":300.8,"y":-0.121},{"x":290.7,"y":-0.112},{"x":294.0,"y":-0.108},{"x":297.2,"y":-0.113},{"x":299.9,"y":-0.106},{"x":289.3,"y":-0.101},{"x":292.8,"y":-0.097},{"x":296.1,"y":-0.102},{"x":298.4,"y":-0.094},{"x":291.4,"y":-0.088},{"x":294.7,"y":-0.084},{"x":297.8,"y":-0.09},{"x":289.0,"y":-0.079},{"x":292.3,"y":-0.074},{"x":295.6,"y":-0.077},{"x":298.9,"y":-0.071},{"x":290.5,"y":-0.064},{"x":293.9,"y":-0.06},{"x":296.6,"y":-0.066},{"x":299.2,"y":-0.058},{"x":288.6,"y":-0.052},{"x":291.8,"y":-0.047},{"x":295.0,"y":-0.051},{"x":297.9,"y":-0.044},{"x":290.1,"y":-0.037},{"x":293.2,"y":-0.033},{"x":296.3,"y":-0.039},{"x":299.6,"y":-0.03},{"x":289.4,"y":-0.022},{"x":292.6,"y":-0.018},{"x":295.8,"y":-0.024},{"x":298.3,"y":-0.013},{"x":290.9,"y":-0.006},{"x":294.1,"y":-0.002},{"x":297.4,"y":0.003},{"x":299.8,"y":-0.008},{"x":289.2,"y":0.009},{"x":292.0,"y":0.014},{"x":295.2,"y":0.01},{"x":298.6,"y":0.018},{"x":290.6,"y":0.025},{"x":293.7,"y":0.029},{"x":296.9,"y":0.023},{"x":299.5,"y":0.034},{"x":289.8,"y":0.041},{"x":292.9,"y":0.046},{"x":296.0,"y":0.04},{"x":298.1,"y":0.052},{"x":291.2,"y":0.058},{"x":294.4,"y":0.063},{"x":297.6,"y":0.057},{"x":300.2,"y":0.069},{"x":290.3,"y":0.075},{"x":293.3,"y":0.08},{"x":296.4,"y":0.073},{"x":299.0,"y":0.086},{"x":291.7,"y":0.092},{"x":294.9,"y":0.097},{"x":297.3,"y":0.09},{"x":300.6,"y":0.103},{"x":292.5,"y":0.108},{"x":295.7,"y":0.112},{"x":298.8,"y":0.106},{"x":301.4,"y":0.11},
{"x":298.2,"y":0.147},{"x":300.2,"y":0.148},{"x":304.1,"y":0.142},{"x":304.8,"y":0.148},{"x":299.5,"y":0.126},{"x":301.0,"y":0.119},{"x":303.3,"y":0.114},{"x":304.4,"y":0.112},{"x":297.3,"y":0.144},{"x":296.4,"y":0.148},{"x":301.8,"y":0.166},{"x":303.0,"y":0.168},
{"x":297.2,"y":0.157},{"x":299.5,"y":0.172},{"x":301.0,"y":0.18},{"x":302.5,"y":0.178},{"x":300.2,"y":0.202},{"x":300.7,"y":0.21},{"x":301.8,"y":0.215},{"x":301.0,"y":0.192},{"x":304.1,"y":0.238},{"x":304.8,"y":0.235},{"x":306.4,"y":0.243},{"x":307.1,"y":0.233},{"x":310.2,"y":0.268},{"x":311.0,"y":0.26},{"x":312.5,"y":0.266},{"x":313.3,"y":0.253},{"x":309.4,"y":0.278},{"x":311.7,"y":0.281},{"x":314.0,"y":0.283},{"x":315.6,"y":0.271},{"x":314.5,"y":0.263},{"x":308.7,"y":0.283},{"x":314.8,"y":0.298},{"x":316.3,"y":0.309},{"x":317.1,"y":0.303},{"x":317.9,"y":0.314},{"x":318.7,"y":0.321},{"x":319.4,"y":0.331},{"x":320.2,"y":0.339},{"x":321.0,"y":0.334},{"x":315.6,"y":0.329},{"x":317.1,"y":0.321},{"x":314.0,"y":0.319},{"x":322.5,"y":0.344},{"x":323.3,"y":0.346},{"x":304.8,"y":0.223},{"x":305.6,"y":0.218},{"x":307.9,"y":0.238}
]
},
"hconcat":[
{"width":465,"height":464,
"resolve":{"axis":{"x":"independent","y":"independent"}},
"layer":[
{"data":{"name":"p1"},"mark":{"type":"point","shape":"square","filled":true,"size":5,"color":"black","opacity":1,"clip":true},
"encoding":{"x":{"field":"x","type":"quantitative","scale":{"domain":[180,250],"nice":false,"zero":false},"axis":{"orient":"bottom","values":[180,182,184,186,188,190,192,194,196,198,200,202,204,206,208,210,212,214,216,218,220,222,224,226,228,230,232,234,236,238,240,242,244,246,248,250],"labelExpr":"datum.value % 10 === 0 ? datum.label : ''","labelPadding":9,"title":"mₕ₂ [GeV]","titlePadding":9}},
"y":{"field":"y","type":"quantitative","scale":{"domain":[-0.35,0.35],"nice":false,"zero":false},"axis":{"orient":"left","values":[-0.34,-0.32,-0.3,-0.28,-0.26,-0.24,-0.22,-0.2,-0.18,-0.16,-0.14,-0.12,-0.1,-0.08,-0.06,-0.04,-0.02,0,0.02,0.04,0.06,0.08,0.1,0.12,0.14,0.16,0.18,0.2,0.22,0.24,0.26,0.28,0.3,0.32,0.34],"labelExpr":"abs(round(datum.value*100)) % 10 === 0 ? format(datum.value, '.1f') : ''","labelPadding":8,"title":"sin θ","titleFontSize":19,"titleAngle":270,"titleBaseline":"middle","titleAlign":"center","titleX":-58,"titleY":232}}}},
{"data":{"name":"a1"},"mark":{"type":"area","opacity":0.5,"clip":true,"interpolate":"linear"},
"encoding":{"x":{"field":"x","type":"quantitative","scale":{"domain":[180,250],"nice":false,"zero":false},"axis":null},"y":{"field":"lo","type":"quantitative","stack":null,"scale":{"domain":[-0.35,0.35],"nice":false,"zero":false},"axis":null},"y2":{"field":"hi"},"color":{"field":"c","type":"nominal","scale":null},"detail":{"field":"g"}}},
{"data":{"name":"hl"},"mark":{"type":"rule","color":"#808080","strokeWidth":3,"opacity":0.45},
"encoding":{"y":{"field":"y","type":"quantitative","scale":{"domain":[-0.35,0.35],"nice":false,"zero":false},"axis":null}}},
{"data":{"name":"s1"},"mark":{"type":"line","color":"#6a6a6a","strokeWidth":1,"clip":true},
"encoding":{"x":{"field":"x","type":"quantitative","scale":{"domain":[180,250],"nice":false,"zero":false},"axis":null},"y":{"field":"y","type":"quantitative","scale":{"domain":[-0.35,0.35],"nice":false,"zero":false},"axis":null},"detail":{"field":"g"}}},
{"data":{"name":"d1"},"mark":{"type":"line","color":"black","strokeWidth":1,"strokeDash":[4,3],"clip":true},
"encoding":{"x":{"field":"x","type":"quantitative","scale":{"domain":[180,250],"nice":false,"zero":false},"axis":null},"y":{"field":"y","type":"quantitative","scale":{"domain":[-0.35,0.35],"nice":false,"zero":false},"axis":null},"detail":{"field":"g"},"order":{"field":"o","type":"quantitative"}}},
{"data":{"name":"t1"},"mark":{"type":"text","align":"center","baseline":"middle","font":"Liberation Serif"},
"encoding":{"x":{"field":"x","type":"quantitative","scale":{"domain":[180,250],"nice":false,"zero":false},"axis":{"orient":"top","values":[180,182,184,186,188,190,192,194,196,198,200,202,204,206,208,210,212,214,216,218,220,222,224,226,228,230,232,234,236,238,240,242,244,246,248,250],"labels":false,"title":null}},"y":{"field":"y","type":"quantitative","scale":{"domain":[-0.35,0.35],"nice":false,"zero":false},"axis":{"orient":"right","values":[-0.34,-0.32,-0.3,-0.28,-0.26,-0.24,-0.22,-0.2,-0.18,-0.16,-0.14,-0.12,-0.1,-0.08,-0.06,-0.04,-0.02,0,0.02,0.04,0.06,0.08,0.1,0.12,0.14,0.16,0.18,0.2,0.22,0.24,0.26,0.28,0.3,0.32,0.34],"labels":false,"title":null}},"text":{"field":"t"},"size":{"field":"s","type":"quantitative","scale":null}}},
{"data":{"values":[{"x":199.9,"y":-0.2555}]},"mark":{"type":"point","shape":"cross","angle":45,"filled":true,"size":110,"color":"#ff1f1f","opacity":1},
"encoding":{"x":{"field":"x","type":"quantitative","scale":{"domain":[180,250],"nice":false,"zero":false},"axis":null},"y":{"field":"y","type":"quantitative","scale":{"domain":[-0.35,0.35],"nice":false,"zero":false},"axis":null}}}
]},
{"width":465,"height":464,
"resolve":{"axis":{"x":"independent","y":"independent"}},
"layer":[
{"data":{"name":"p2"},"mark":{"type":"circle","size":11,"color":"black","opacity":1,"clip":true},
"encoding":{"x":{"field":"x","type":"quantitative","scale":{"domain":[200,400],"nice":false,"zero":false},"axis":{"orient":"bottom","values":[200,210,220,230,240,250,260,270,280,290,300,310,320,330,340,350,360,370,380,390,400],"labelExpr":"datum.value % 50 === 0 ? datum.label : ''","labelPadding":9,"title":"mₕ₂ [GeV]","titlePadding":9}},
"y":{"field":"y","type":"quantitative","scale":{"domain":[-0.35,0.35],"nice":false,"zero":false},"axis":{"orient":"left","values":[-0.34,-0.32,-0.3,-0.28,-0.26,-0.24,-0.22,-0.2,-0.18,-0.16,-0.14,-0.12,-0.1,-0.08,-0.06,-0.04,-0.02,0,0.02,0.04,0.06,0.08,0.1,0.12,0.14,0.16,0.18,0.2,0.22,0.24,0.26,0.28,0.3,0.32,0.34],"labelExpr":"abs(round(datum.value*100)) % 10 === 0 ? format(datum.value, '.1f') : ''","labelPadding":8,"title":"sin θ","titleFontSize":19,"titleAngle":270,"titleBaseline":"middle","titleAlign":"center","titleX":-58,"titleY":232}}}},
{"data":{"name":"a2"},"mark":{"type":"area","opacity":0.5,"clip":true,"interpolate":"linear"},
"encoding":{"x":{"field":"x","type":"quantitative","scale":{"domain":[200,400],"nice":false,"zero":false},"axis":null},"y":{"field":"lo","type":"quantitative","stack":null,"scale":{"domain":[-0.35,0.35],"nice":false,"zero":false},"axis":null},"y2":{"field":"hi"},"color":{"field":"c","type":"nominal","scale":null},"detail":{"field":"g"}}},
{"data":{"name":"hl"},"mark":{"type":"rule","color":"#808080","strokeWidth":3,"opacity":0.45},
"encoding":{"y":{"field":"y","type":"quantitative","scale":{"domain":[-0.35,0.35],"nice":false,"zero":false},"axis":null}}},
{"data":{"name":"s2"},"mark":{"type":"line","color":"#6a6a6a","strokeWidth":1,"clip":true},
"encoding":{"x":{"field":"x","type":"quantitative","scale":{"domain":[200,400],"nice":false,"zero":false},"axis":null},"y":{"field":"y","type":"quantitative","scale":{"domain":[-0.35,0.35],"nice":false,"zero":false},"axis":null},"detail":{"field":"g"}}},
{"data":{"name":"d2"},"mark":{"type":"line","color":"black","strokeWidth":1,"strokeDash":[4,3],"clip":true},
"encoding":{"x":{"field":"x","type":"quantitative","scale":{"domain":[200,400],"nice":false,"zero":false},"axis":null},"y":{"field":"y","type":"quantitative","scale":{"domain":[-0.35,0.35],"nice":false,"zero":false},"axis":null},"detail":{"field":"g"},"order":{"field":"o","type":"quantitative"}}},
{"data":{"name":"t2"},"mark":{"type":"text","align":"center","baseline":"middle","font":"Liberation Serif"},
"encoding":{"x":{"field":"x","type":"quantitative","scale":{"domain":[200,400],"nice":false,"zero":false},"axis":{"orient":"top","values":[200,210,220,230,240,250,260,270,280,290,300,310,320,330,340,350,360,370,380,390,400],"labels":false,"title":null}},"y":{"field":"y","type":"quantitative","scale":{"domain":[-0.35,0.35],"nice":false,"zero":false},"axis":{"orient":"right","values":[-0.34,-0.32,-0.3,-0.28,-0.26,-0.24,-0.22,-0.2,-0.18,-0.16,-0.14,-0.12,-0.1,-0.08,-0.06,-0.04,-0.02,0,0.02,0.04,0.06,0.08,0.1,0.12,0.14,0.16,0.18,0.2,0.22,0.24,0.26,0.28,0.3,0.32,0.34],"labels":false,"title":null}},"text":{"field":"t"},"size":{"field":"s","type":"quantitative","scale":null}}},
{"data":{"values":[{"x":289.5,"y":-0.121}]},"mark":{"type":"point","shape":"M0,-1L0.235,-0.324L0.951,-0.309L0.38,0.124L0.588,0.809L0,0.4L-0.588,0.809L-0.38,0.124L-0.951,-0.309L-0.235,-0.324Z","filled":true,"size":280,"color":"#1f1fff","opacity":1},
"encoding":{"x":{"field":"x","type":"quantitative","scale":{"domain":[200,400],"nice":false,"zero":false},"axis":null},"y":{"field":"y","type":"quantitative","scale":{"domain":[-0.35,0.35],"nice":false,"zero":false},"axis":null}}}
]}
]
}
